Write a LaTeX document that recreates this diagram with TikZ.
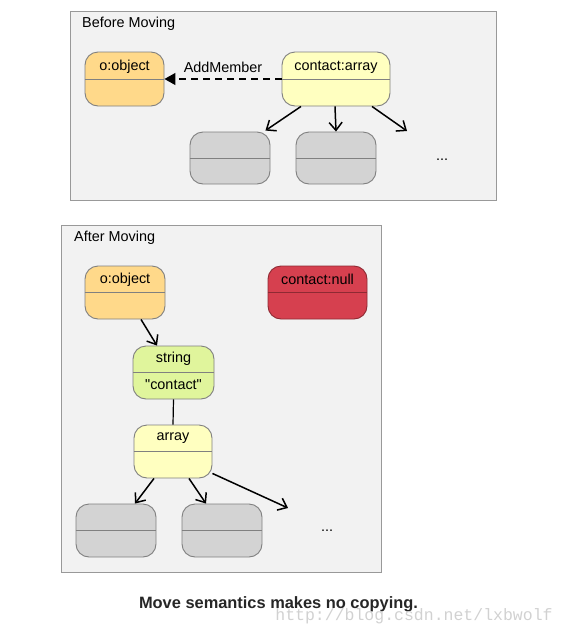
\documentclass[tikz,border=0pt]{standalone}
\usepackage{fontspec}
\setmainfont{Liberation Sans}
\newfontfamily\qfont{Liberation Sans}
\newfontfamily\wmfont{Liberation Mono}
\usetikzlibrary{arrows.meta,calc}
\definecolor{panelbg}{HTML}{F2F2F2}
\definecolor{panelline}{HTML}{999999}
\definecolor{objfill}{HTML}{FFD98A}
\definecolor{arrfill}{HTML}{FFFFC0}
\definecolor{strfill}{HTML}{E0F59C}
\definecolor{nullfill}{HTML}{D6404F}
\definecolor{nullline}{HTML}{8E2A33}
\definecolor{grayfill}{HTML}{D3D3D3}
\definecolor{boxline}{HTML}{808080}
\tikzset{
  panel/.style={draw=panelline, fill=panelbg, line width=0.9pt, anchor=north west, inner sep=0pt},
  box/.style={draw=boxline, line width=0.9pt, rounded corners=13pt, inner sep=0pt},
  divline/.style={draw=boxline, line width=0.9pt},
  lbl/.style={font=\fontsize{14.4}{16}\selectfont, inner sep=0pt},
  conn/.style={line width=1.5pt, -{Straight Barb[length=8pt,width=13pt,line width=1.5pt]}},
  plain/.style={line width=1.2pt},
  dashconn/.style={line width=1.2pt, dash pattern=on 7pt off 5pt, -{Triangle[length=11pt,width=12pt]}},
}
\begin{document}
\begin{tikzpicture}[x=1pt,y=-1pt]
\useasboundingbox (0,0) rectangle (565,635);
% panels
\node[panel, minimum width=426pt, minimum height=189pt] (p1) at (70,11) {};
\node[lbl, anchor=west] (t1) at (82,24) {Before Moving};
\node[panel, minimum width=320pt, minimum height=347pt] (p2) at (61,225) {};
\node[lbl, anchor=west] (t2) at (74,238) {After Moving};
% before
\node[box, fill=objfill, minimum width=79pt, minimum height=54pt] (o1) at (124.5,79) {};
\draw[divline] (o1.west) -- (o1.east);
\node[lbl] (o1t) at ([yshift=12pt]o1.center) {o:object};
\node[box, fill=arrfill, minimum width=108pt, minimum height=54pt] (ca) at (336,79) {};
\draw[divline] (ca.west) -- (ca.east);
\node[lbl] (cat) at ([yshift=12pt]ca.center) {contact:array};
\node[box, fill=grayfill, minimum width=80pt, minimum height=52pt] (g1) at (230,158) {};
\draw[divline] (g1.west) -- (g1.east);
\node[box, fill=grayfill, minimum width=80pt, minimum height=52pt] (g2) at (336,158) {};
\draw[divline] (g2.west) -- (g2.east);
\node[lbl] (d1) at (442,160) {...};
\coordinate (e1) at (407,131);
\draw[dashconn] (ca.west) -- (o1.east);
\node[lbl] (am) at (223,67) {AddMember};
\draw[conn] ($(ca.south)+(-35,0)$) -- ($(g1.north east)+(-5,-1)$);
\draw[conn] ($(ca.south)+(-1,0)$) -- (g2.north);
\draw[conn] ($(ca.south)+(36,0)$) -- (e1);
% after
\node[box, fill=objfill, minimum width=80pt, minimum height=53pt] (o2) at (125,292.5) {};
\draw[divline] (o2.west) -- (o2.east);
\node[lbl] (o2t) at ([yshift=13pt]o2.center) {o:object};
\node[box, fill=nullfill, draw=nullline, minimum width=99pt, minimum height=53pt] (cn) at (317.5,292.5) {};
\draw[divline, draw=nullline] (cn.west) -- (cn.east);
\node[lbl] (cnt) at ([yshift=13pt]cn.center) {contact:null};
\node[box, fill=strfill, minimum width=81pt, minimum height=53pt] (s) at (173.5,372.5) {};
\draw[divline] (s.west) -- (s.east);
\node[lbl] (st) at ([yshift=14pt]s.center) {string};
\node[lbl] (sv) at ([yshift=-12pt]s.center) {\qfont "contact"};
\node[box, fill=arrfill, minimum width=78pt, minimum height=53pt] (a) at (173,451.5) {};
\draw[divline] (a.west) -- (a.east);
\node[lbl] (arrt) at ([yshift=13pt]a.center) {array};
\node[box, fill=grayfill, minimum width=80pt, minimum height=53pt] (g3) at (116,530.5) {};
\draw[divline] (g3.west) -- (g3.east);
\node[box, fill=grayfill, minimum width=80pt, minimum height=53pt] (g4) at (222,530.5) {};
\draw[divline] (g4.west) -- (g4.east);
\node[lbl] (d2) at (327,531) {...};
\coordinate (e2) at (288,508);
\draw[conn] ($(o2.south)+(16,0)$) -- ($(s.north)+(-16.5,0)$);
\draw[plain] (s.south) -- (a.north);
\draw[conn] ($(a.south)+(-19,0)$) -- ($(g3.north)+(19,0)$);
\draw[conn] ($(a.south)+(16,0)$) -- ($(g4.north)+(-16,0)$);
\draw[conn] ($(a.south east)+(0,-5)$) -- (e2);
% caption
\node[font=\fontsize{16.4}{18}\selectfont\bfseries, text=black!85, inner sep=0pt] (cap) at (278.5,604) {Move semantics makes no copying.};
\node[font=\wmfont\fontsize{16.5}{18}\selectfont, text=black!18, inner sep=0pt] (wm) at (414,616) {http://blog.csdn.net/lxbwolf};
\end{tikzpicture}
\end{document}
